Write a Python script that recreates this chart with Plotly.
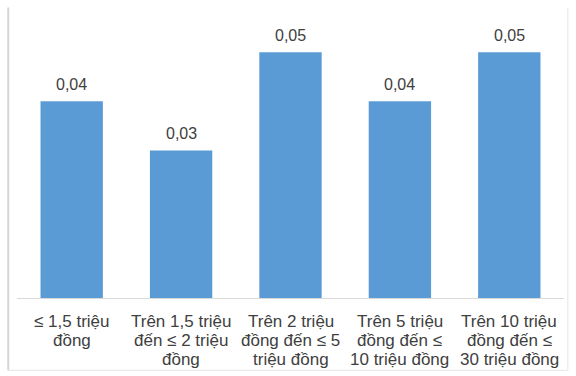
import plotly.graph_objects as go

categories = [
    "≤ 1,5 triệu<br>đồng",
    "Trên 1,5 triệu<br>đến ≤ 2 triệu<br>đồng",
    "Trên 2 triệu<br>đồng đến ≤ 5<br>triệu đồng",
    "Trên 5 triệu<br>đồng đến ≤<br>10 triệu đồng",
    "Trên 10 triệu<br>đồng đến ≤<br>30 triệu đồng",
]
values = [0.04, 0.03, 0.05, 0.04, 0.05]

labels = [f"{v:.2f}".replace(".", ",") for v in values]

FONT = "Liberation Sans, Arial, sans-serif"
TEXT_COLOR = "#404040"

fig = go.Figure(
    go.Bar(
        x=categories,
        y=values,
        marker=dict(color="#5B9BD5", line=dict(width=0)),
        hoverinfo="x+y",
    )
)

annotations = []
# value labels above each bar
for cat, v, lab in zip(categories, values, labels):
    annotations.append(dict(
        x=cat, y=v, xref="x", yref="y", text=lab, showarrow=False,
        yanchor="middle", yshift=17,
        font=dict(family=FONT, size=16, color=TEXT_COLOR),
    ))
# category labels, one annotation per line for tight line spacing
for cat in categories:
    for i, line in enumerate(cat.split("<br>")):
        annotations.append(dict(
            x=cat, y=0, xref="x", yref="y", text=line, showarrow=False,
            yanchor="middle", yshift=-(23 + 19 * i),
            font=dict(family=FONT, size=17, color=TEXT_COLOR),
        ))

fig.update_layout(
    width=576,
    height=376,
    margin=dict(l=17, r=12, t=3, b=78),
    paper_bgcolor="white",
    plot_bgcolor="white",
    bargap=0.43,
    showlegend=False,
    font=dict(family=FONT, size=16, color=TEXT_COLOR),
    xaxis=dict(
        showline=True,
        linecolor="#d9d9d9",
        linewidth=1,
        ticks="",
        showgrid=False,
        showticklabels=False,
    ),
    yaxis=dict(
        range=[0, 0.06],
        visible=False,
        showgrid=False,
        zeroline=False,
    ),
    annotations=annotations,
    shapes=[
        # light chart-area frame (left, right, bottom)
        dict(type="line", xref="paper", yref="paper", x0=-0.016, x1=-0.016, y0=-0.245, y1=0.985,
             line=dict(color="#d4d4d4", width=2)),
        dict(type="line", xref="paper", yref="paper", x0=1.007, x1=1.007, y0=-0.245, y1=0.985,
             line=dict(color="#e6e6e6", width=1)),
        dict(type="line", xref="paper", yref="paper", x0=-0.016, x1=1.007, y0=-0.245, y1=-0.245,
             line=dict(color="#e6e6e6", width=1)),
    ],
)

fig.write_html("out.html")
